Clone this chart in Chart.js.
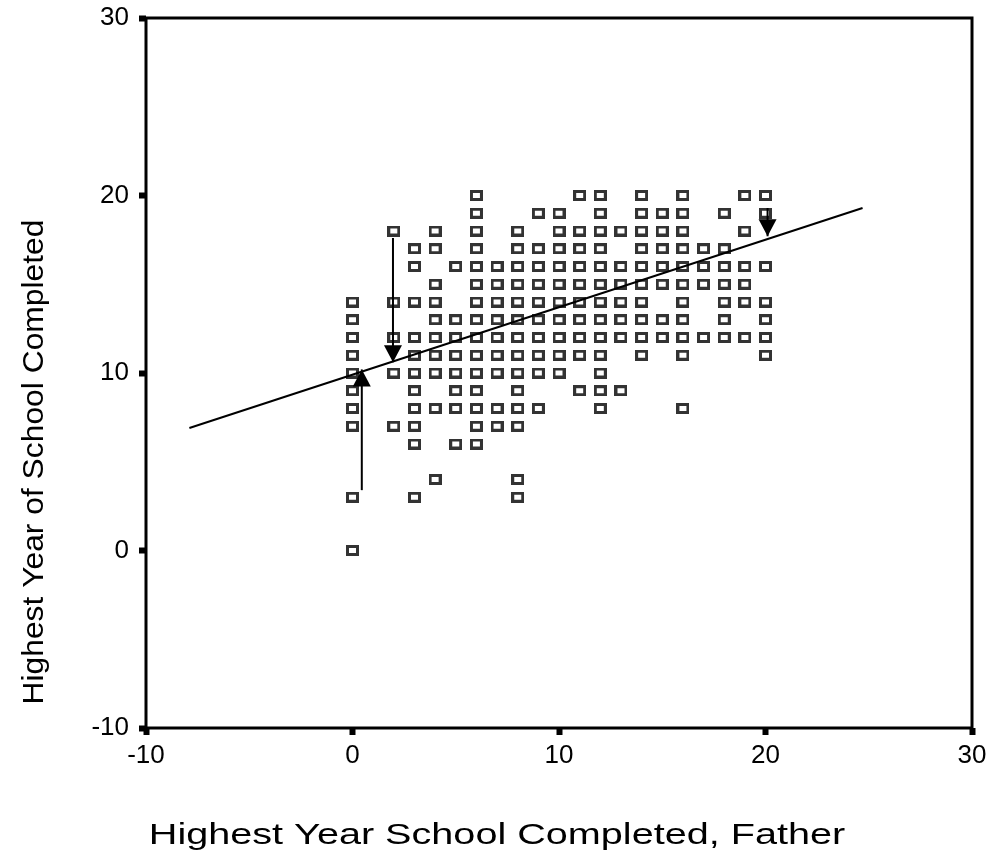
<!DOCTYPE html>
<html>
<head>
<meta charset="utf-8">
<title>Highest Year of School Completed</title>
<script src="https://cdn.jsdelivr.net/npm/chart.js@4.4.1/dist/chart.umd.min.js"></script>
<style>
  html, body { margin: 0; padding: 0; background: #fff; }
  #wrap { width: 992px; height: 855px; }
</style>
</head>
<body>
<div id="wrap"><canvas id="myChart" width="992" height="855"></canvas></div>
<script>
// own years of school (y) and, for each, the fathers' years (x) that occur
const ownYears = [20, 19, 18, 17, 16, 15, 14, 13, 12, 11, 10, 9, 8, 7, 6, 4, 3, 0];
const fatherYears = [
    [6, 11, 12, 14, 16, 19, 20],
    [6, 9, 10, 12, 14, 15, 16, 18, 20],
    [2, 4, 6, 8, 10, 11, 12, 13, 14, 15, 16, 19],
    [3, 4, 6, 8, 9, 10, 11, 12, 14, 15, 16, 17, 18],
    [3, 5, 6, 7, 8, 9, 10, 11, 12, 13, 14, 15, 16, 17, 18, 19, 20],
    [4, 6, 7, 8, 9, 10, 11, 12, 13, 14, 15, 16, 17, 18, 19],
    [0, 2, 3, 4, 6, 7, 8, 9, 10, 11, 12, 13, 14, 16, 18, 19, 20],
    [0, 4, 5, 6, 7, 8, 9, 10, 11, 12, 13, 14, 15, 16, 18, 20],
    [0, 2, 3, 4, 5, 6, 7, 8, 9, 10, 11, 12, 13, 14, 15, 16, 17, 18, 19, 20],
    [0, 3, 4, 5, 6, 7, 8, 9, 10, 11, 12, 14, 16, 20],
    [0, 2, 3, 4, 5, 6, 7, 8, 9, 10, 12],
    [0, 3, 5, 6, 8, 11, 12, 13],
    [0, 3, 4, 5, 6, 7, 8, 9, 12, 16],
    [0, 2, 3, 6, 7, 8],
    [3, 5, 6],
    [4, 8],
    [0, 3, 8],
    [0]
];

// fitted line, ends as drawn
const fitX = [-7.9, 24.7];
const fitY = [6.9, 19.3];

// residual arrows
const arrowX = [0.45, 1.96, 20.1];
const arrowFrom = [3.4, 17.6, 19.3];
const arrowTo = [10.2, 10.6, 17.7];

const xTicks = [-10, 0, 10, 20, 30];
const yTicks = [-10, 0, 10, 20, 30];
const xTitle = 'Highest Year School Completed, Father';
const yTitle = 'Highest Year of School Completed';

const FONT = '"Liberation Sans", Arial, sans-serif';

const points = [];
ownYears.forEach((y, i) => {
    fatherYears[i].forEach(x => points.push({ x: x, y: y }));
});

// hollow box marker
function makeBox() {
    const c = document.createElement('canvas');
    c.width = 13;
    c.height = 11;
    const g = c.getContext('2d');
    g.fillStyle = '#fff';
    g.fillRect(0, 0, 13, 11);
    g.strokeStyle = '#333';
    g.lineWidth = 3;
    g.strokeRect(1.5, 1.5, 10, 8);
    return c;
}

const datasets = [{
    label: 'cases',
    data: points,
    pointStyle: makeBox(),
    order: 3
}, {
    label: 'fit',
    data: fitX.map((x, i) => ({ x: x, y: fitY[i] })),
    showLine: true,
    borderColor: '#000',
    borderWidth: 2,
    pointRadius: 0,
    order: 1
}];

arrowX.forEach((x, i) => {
    datasets.push({
        label: 'arrow' + i,
        data: [{ x: x, y: arrowFrom[i] }, { x: x, y: arrowTo[i] }],
        showLine: true,
        borderColor: '#000',
        borderWidth: 2,
        pointRadius: 0,
        arrow: true,
        order: 0
    });
});

const frame = {
    id: 'frame',
    beforeDatasetsDraw(chart) {
        const a = chart.chartArea;
        const ctx = chart.ctx;
        ctx.save();
        ctx.strokeStyle = '#000';
        ctx.lineWidth = 3;
        ctx.strokeRect(a.left, a.top, a.right - a.left, a.bottom - a.top);
        ctx.restore();
    }
};

const arrowHeads = {
    id: 'arrowHeads',
    afterDatasetsDraw(chart) {
        const ctx = chart.ctx;
        chart.data.datasets.forEach((ds, i) => {
            if (!ds.arrow) return;
            const pts = chart.getDatasetMeta(i).data;
            const a = pts[0], b = pts[pts.length - 1];
            const ang = Math.atan2(b.y - a.y, b.x - a.x);
            ctx.save();
            ctx.fillStyle = '#000';
            ctx.translate(b.x, b.y);
            ctx.rotate(ang);
            ctx.beginPath();
            ctx.moveTo(0, 0);
            ctx.lineTo(-17, -9);
            ctx.lineTo(-17, 9);
            ctx.closePath();
            ctx.fill();
            ctx.restore();
        });
    }
};

// titles drawn stretched like the source picture
const axisTitles = {
    id: 'axisTitles',
    afterDraw(chart) {
        const ctx = chart.ctx;
        ctx.save();
        ctx.fillStyle = '#000';
        ctx.font = '30px ' + FONT;
        ctx.textAlign = 'center';
        ctx.textBaseline = 'alphabetic';

        ctx.save();
        ctx.translate(497, 844);
        ctx.scale(1.32, 1);
        ctx.fillText(xTitle, 0, 0);
        ctx.restore();

        ctx.save();
        ctx.translate(43, 462);
        ctx.rotate(-Math.PI / 2);
        ctx.scale(1.06, 1);
        ctx.fillText(yTitle, 0, 0);
        ctx.restore();

        ctx.restore();
    }
};

const tickFont = { family: FONT, size: 26 };

new Chart(document.getElementById('myChart').getContext('2d'), {
    type: 'scatter',
    data: { datasets: datasets },
    options: {
        responsive: false,
        animation: false,
        events: [],
        layout: { padding: { left: 0, top: 18, right: 20, bottom: 0 } },
        plugins: {
            legend: { display: false },
            tooltip: { enabled: false }
        },
        scales: {
            x: {
                type: 'linear',
                position: 'bottom',
                min: -10,
                max: 30,
                afterBuildTicks: s => { s.ticks = xTicks.map(v => ({ value: v })); },
                afterFit: s => { s.height = 127; s.paddingLeft = 0; s.paddingRight = 0; },
                border: { display: false },
                grid: {
                    drawOnChartArea: false,
                    tickLength: 7,
                    tickWidth: 6,
                    tickColor: '#000'
                },
                ticks: {
                    color: '#000',
                    padding: 5,
                    font: tickFont,
                    maxRotation: 0,
                    autoSkip: false
                }
            },
            y: {
                type: 'linear',
                position: 'left',
                min: -10,
                max: 30,
                afterBuildTicks: s => { s.ticks = yTicks.map(v => ({ value: v })); },
                afterFit: s => { s.width = 146; s.paddingTop = 0; s.paddingBottom = 0; },
                border: { display: false },
                grid: {
                    drawOnChartArea: false,
                    tickLength: 7,
                    tickWidth: 6,
                    tickColor: '#000'
                },
                ticks: {
                    color: '#000',
                    padding: 10,
                    font: tickFont,
                    autoSkip: false
                }
            }
        }
    },
    plugins: [frame, arrowHeads, axisTitles]
});
</script>
</body>
</html>
